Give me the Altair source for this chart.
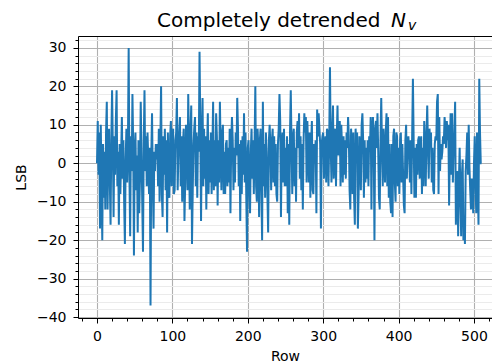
import altair as alt
import pandas as pd

# Detrended N_v values (LSB), one per row 0..510
lsb = [
    0, 11, -3, 8, -17, 10, -6, -20, 5, -9,
    3, -12, 8, 16, -12, 2, 9, -5, -16, 6,
    19, 4, -14, 7, -3, 11, 19, -6, 3, -16,
    5, -8, 2, 12, -4, 6, -10, -21, 1, 9,
    -5, 4, 30, -3, -19, 7, -2, 18, 5, -24,
    3, 8, -7, 2, -18, 6, -13, -4, 16, 3,
    -10, -23, 5, 19, -2, 7, -6, 8, 1, -8,
    4, -37, 2, 13, -5, -17, 3, -2, 5, 1,
    5, -6, 9, -10, 5, 20, -8, -14, 7, -3,
    9, -7, 6, -18, 8, -4, -9, 7, 11, -6,
    4, 9, -8, -7, 6, 8, 17, -7, 3, 8,
    12, -6, 7, -10, 5, 9, -15, -5, 10, 4,
    -7, 18, 5, -12, 8, 15, -21, -7, 5, 9,
    12, -6, 8, -9, 7, 3, 29, 10, -15, 6,
    17, -6, 9, -4, 7, -12, 4, 13, -8, 6,
    -5, 8, -8, 3, 16, -7, 6, -6, 13, 7,
    -11, 6, -5, 16, 4, -7, 8, 10, -8, 3,
    -8, 5, 6, -6, 4, -5, 9, -13, 5, 12,
    6, -7, 4, -5, 8, 2, 17, 9, -6, 5,
    -15, 6, -8, 7, -3, 13, -5, 8, -9, -23,
    4, 6, -7, -13, 3, 9, -4, 6, -8, 5,
    20, -6, -10, 9, 4, -14, 6, 9, -7, -20,
    16, -6, 5, -9, 8, 3, -8, -18, 6, 10,
    4, -7, 6, 9, -5, 7, -6, 5, -8, -10,
    5, 9, 18, 11, -14, 4, 8, -5, 9, -6,
    4, -6, 7, -13, 5, -16, 8, 19, 5, -8,
    7, 9, -6, 4, -10, 8, 11, 4, 13, -4,
    7, -7, 5, -12, 6, 13, 8, 12, -5, 11,
    4, -5, 8, -9, 5, 11, -7, -8, 5, 2,
    6, -13, 14, 7, 13, 9, 5, -17, 5, 7,
    8, -4, 5, 7, -5, 9, 8, -6, 6, 25,
    4, -5, 8, 15, -4, 5, 9, -6, 7, 15,
    2, 6, 11, -6, 10, 4, -5, 7, -3, 6,
    -4, 8, 4, 12, 7, -7, -12, 9, 4, -8,
    8, -9, -16, 9, 3, 8, -17, -8, 7, 3,
    -7, 10, 13, 6, -9, 6, -5, 4, -4, 6,
    -6, 7, 3, 12, -12, 8, 12, 5, -20, 9,
    11, 4, 13, 3, -9, -12, 6, 17, 4, -6,
    9, 3, -5, 8, 13, -6, 12, -9, 5, -10,
    -13, 5, -14, 7, 9, -5, -10, 8, 7, -6,
    4, -8, 6, 8, -5, 5, -3, -11, -13, 6,
    10, -4, 5, 7, 3, -5, 6, -8, 7, 22,
    6, -9, 4, -9, 5, -3, 6, 7, -4, 5,
    7, -8, 4, -6, 11, 5, -6, 7, 15, 4,
    -4, 9, 5, 8, -5, 4, -7, -8, 5, 7,
    6, 16, 18, -8, 12, -2, 5, 1, 3, 7,
    5, 12, 9, 4, 11, 6, 10, -11, 3, 13,
    -3, 13, -5, 4, 8, 16, -16, -7, -2, -19,
    -5, 4, -9, -19, -3, 1, -20, -14, -21, -2,
    2, 8, -3, 10, -1, -7, -12, -4, -8, -13,
    0, 7, -5, -13, 8, -5, -16, 22, 8, 0, 0,
]
rows = list(range(len(lsb)))

x_major = [0, 100, 200, 300, 400, 500]
x_minor = [v for v in range(-20, 521, 20) if v % 100 != 0]
y_major = [-40, -30, -20, -10, 0, 10, 20, 30]
y_minor = [v for v in range(-40, 33, 2) if v % 10 != 0]

title_main = "Completely detrended"
title_sym = "N"
title_sub = "v"

FONT = "DejaVu Sans"
W, H = 414, 282

df = pd.DataFrame({"Row": rows, "LSB": lsb})

xs = alt.Scale(domain=[-25.2, 523.9], nice=False, zero=False)
ys = alt.Scale(domain=[-40.25, 33.1], nice=False, zero=False)

line = alt.Chart(df).mark_line(color="#1f77b4", strokeWidth=2).encode(
    x=alt.X("Row:Q", scale=xs, axis=alt.Axis(
        orient="bottom", values=x_major, title="Row", grid=True,
        gridColor="#b0b0b0", gridWidth=1.1, tickSize=5, tickColor="black",
        tickWidth=1, domainColor="black", domainWidth=1, labelFontSize=14,
        labelColor="black", labelPadding=6, labelFont=FONT,
        titleFont=FONT, titleFontSize=14, titleFontWeight="normal",
        titleColor="black", titlePadding=6, labelFlush=False)),
    y=alt.Y("LSB:Q", scale=ys, axis=alt.Axis(
        orient="left", values=y_major, title="LSB", grid=True,
        gridColor="#b0b0b0", gridWidth=1.1, tickSize=5, tickColor="black",
        tickWidth=1, domainColor="black", domainWidth=1, labelFontSize=14,
        labelColor="black", labelPadding=7, labelFont=FONT,
        titleFont=FONT, titleFontSize=14, titleFontWeight="normal",
        titleColor="black", titlePadding=8, labelFlush=False)),
)

minor = alt.Chart(df).mark_line(opacity=0).encode(
    x=alt.X("Row:Q", scale=xs, axis=alt.Axis(
        orient="bottom", values=x_minor, labels=False, title=None,
        grid=False, domain=False, tickSize=3, tickColor="black", tickWidth=1)),
    y=alt.Y("LSB:Q", scale=ys, axis=alt.Axis(
        orient="left", values=y_minor, labels=False, title=None,
        grid=True, gridColor="#ebebeb", gridWidth=1, domain=False,
        tickSize=3, tickColor="black", tickWidth=1)),
)

frame = alt.Chart(df).mark_line(opacity=0).encode(
    x=alt.X("Row:Q", scale=xs, axis=alt.Axis(
        orient="top", labels=False, ticks=False, title=None, grid=False,
        domain=True, domainColor="black", domainWidth=1)),
    y=alt.Y("LSB:Q", scale=ys, axis=None),
)

one = pd.DataFrame({"k": [0]})
t1 = alt.Chart(one).mark_text(
    text=title_main, font=FONT, fontSize=20, align="left",
    baseline="alphabetic", color="black").encode(
    x=alt.value(79), y=alt.value(-9.3))
t2 = alt.Chart(one).mark_text(
    text=title_sym, font=FONT, fontSize=20, fontStyle="italic", align="left",
    baseline="alphabetic", color="black").encode(
    x=alt.value(313), y=alt.value(-9.3))
t3 = alt.Chart(one).mark_text(
    text=title_sub, font=FONT, fontSize=14, fontStyle="italic", align="left",
    baseline="alphabetic", color="black").encode(
    x=alt.value(330), y=alt.value(-5.8))

chart = alt.layer(minor, line, frame, t1, t2, t3).resolve_axis(
    x="independent", y="independent"
).properties(
    width=W, height=H,
    autosize=alt.AutoSizeParams(type="none"),
    padding={"left": 78, "top": 36, "right": 0, "bottom": 46},
).configure_view(stroke=None).configure(background="white")

chart.save("out.html", embed_options={"renderer": "svg", "actions": False})
